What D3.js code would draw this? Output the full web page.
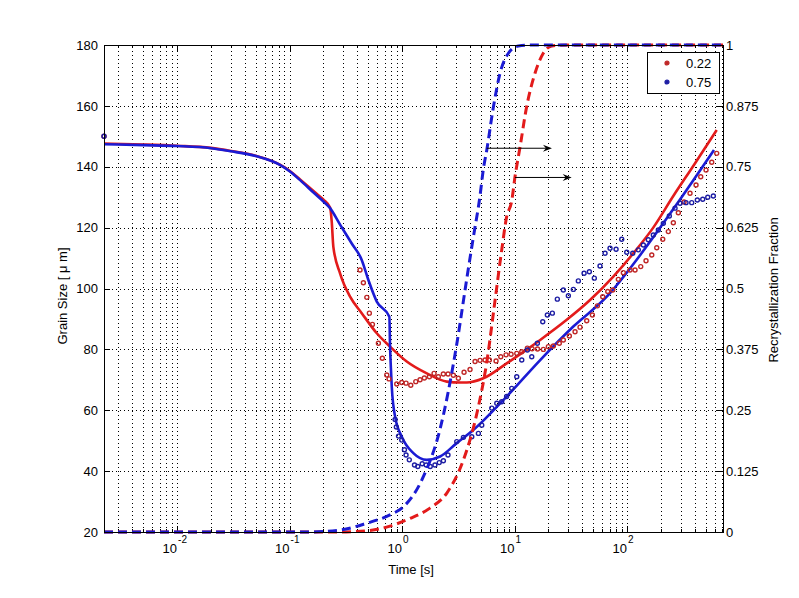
<!DOCTYPE html>
<html>
<head>
<meta charset="utf-8">
<script src="https://cdn.jsdelivr.net/npm/d3@7"></script>
<style>
body { margin: 0; background: #fff; }
svg text { font-family: "Liberation Sans", Arial, Helvetica, sans-serif; font-size: 13px; fill: #000; }
.grid line { stroke: #000; stroke-width: 1; stroke-dasharray: 1,3; shape-rendering: crispEdges; }
.grid path { display: none; }
.ticks path { display: none; }
.ticks line { stroke: #000; shape-rendering: crispEdges; }
</style>
</head>
<body>
<div id="chart"></div>
<script>

// axis ranges and ticks
var timeRange = [0.00224, 713];
var sizeRange = [20, 180];
var fracRange = [0, 1];
var sizeTicks = [20, 40, 60, 80, 100, 120, 140, 160, 180];
var fracTicks = [0, 0.125, 0.25, 0.375, 0.5, 0.625, 0.75, 0.875, 1];
var fracLabels = ["0", "0.125", "0.25", "0.375", "0.5", "0.625", "0.75", "0.875", "1"];
var decadeTicks = [0.01, 0.1, 1, 10, 100];
var decadeExp = ["-2", "-1", "0", "1", "2"];
var seriesNames = ["0.22", "0.75"];

// fitted grain size curves [time s, grain size um]
var redFit = [[0.00224, 147.6], [0.005, 147.3], [0.01, 146.9], [0.02, 146.2], [0.03, 145.2], [0.05, 143.6],
    [0.082, 140.7], [0.1, 138.7], [0.124, 135.8], [0.168, 131.6], [0.2, 129.2], [0.229, 126.6], [0.237, 122],
    [0.245, 113.7], [0.281, 105], [0.345, 97.3], [0.438, 91.9], [0.596, 85.3], [0.782, 80.9], [1.1, 76],
    [1.66, 72.1], [2.5, 69.4], [3.3, 69.1], [3.76, 69.1], [5.28, 70.5], [8.5, 75.4], [12, 79.2], [16.9, 83.1],
    [29.1, 89.7], [46.9, 96.2], [75.5, 103.9], [114, 111.6], [171, 120], [257, 130.3], [400, 141], [627, 152.1]];

var blueFit = [[0.00224, 147.4], [0.005, 147.1], [0.01, 146.8], [0.02, 146.1], [0.03, 145.1], [0.05, 143.5],
    [0.082, 140.6], [0.1, 138.5], [0.124, 135.6], [0.168, 131.1], [0.2, 128.6], [0.229, 126.4], [0.281, 121],
    [0.357, 114.8], [0.438, 109.4], [0.502, 102.8], [0.596, 95.7], [0.771, 90.7], [0.782, 81], [0.8, 72],
    [0.81, 67.7], [0.867, 57.9], [0.994, 51.3], [1.26, 45.9], [1.66, 43.7], [2.18, 44.8], [3.06, 49.2],
    [4.3, 53.5], [8.5, 64.5], [16.9, 76.5], [33.3, 87.5], [66, 97.3], [131, 111], [257, 126], [593, 145.5]];

// recrystallization fraction curves [time s, fraction]
var redFrac = [[0.00224, 0], [0.28, 0], [0.552, 0.004], [0.78, 0.012], [1.18, 0.028], [1.77, 0.049],
    [2.5, 0.08], [3.51, 0.148], [4.63, 0.244], [5.7, 0.353], [6.71, 0.476], [7.69, 0.579], [8.5, 0.647],
    [9.44, 0.68], [10.1, 0.73], [11.2, 0.791], [12.8, 0.873], [15.2, 0.942], [18, 0.983], [21.4, 0.998],
    [30, 1], [713, 1]];

var blueFrac = [[0.00224, 0], [0.14, 0], [0.28, 0.004], [0.485, 0.018], [0.78, 0.035], [1.03, 0.052],
    [1.45, 0.1], [1.55, 0.114], [2.18, 0.212], [3.06, 0.385], [3.76, 0.52], [4.3, 0.605], [4.93, 0.69],
    [5.28, 0.745], [5.66, 0.784], [6.49, 0.873], [7.43, 0.942], [8.81, 0.983], [10.8, 0.998], [14, 1],
    [713, 1]];

// measured grain size [time s, grain size um]
var redPoints = [[0.00224, 150], [0.423, 106.1], [0.453, 101.9], [0.486, 97.1], [0.512, 91.9], [0.545, 88.2],
    [0.616, 82], [0.668, 77.1], [0.731, 71.6], [0.766, 70.3], [0.897, 68.6], [0.994, 69.1], [1.085, 68.9],
    [1.195, 68.2], [1.324, 69.4], [1.445, 70], [1.578, 70.6], [1.749, 71], [1.925, 72.1], [2.102, 71],
    [2.328, 71.9], [2.564, 71.9], [2.858, 71.5], [3.166, 70.5], [3.557, 72.5], [4.02, 73.4], [4.456, 76],
    [4.934, 76.4], [5.468, 76.5], [5.97, 76.5], [6.848, 76.2], [7.54, 77.6], [8.4, 78.2], [9.31, 78.4],
    [10.46, 78.7], [11.59, 79.2], [13, 80.4], [14.3, 80.2], [16, 80.1], [18.03, 80], [19.97, 80.9],
    [22.13, 81.1], [25, 82], [27.15, 83.1], [30.7, 84.4], [34.5, 85.8], [38.2, 87.3], [43.8, 89.4],
    [49.2, 91.3], [54.5, 94.3], [60.8, 97.3], [67.4, 99], [74.6, 99.5], [83.7, 103], [92.7, 105.2],
    [106.3, 106.1], [117.8, 106.1], [132.4, 107.2], [147.5, 109.1], [165.9, 111], [183.7, 113.4],
    [207.7, 116.2], [232.8, 118.7], [258, 121.6], [285.8, 124.9], [321.2, 128.4], [363.1, 131.3],
    [410.6, 134], [451.9, 136.7], [503.8, 138.9], [566.3, 141.5], [627, 144.4]];

var bluePoints = [[0.00224, 150], [0.867, 57], [0.89, 54.5], [0.93, 51.5], [0.994, 50.2], [1.05, 47],
    [1.085, 45.3], [1.16, 43.7], [1.29, 42], [1.38, 41.5], [1.51, 42.4], [1.64, 42], [1.78, 41.5],
    [1.96, 42], [2.14, 42.8], [2.33, 43.4], [2.56, 45.3], [3.064, 49.7], [3.51, 51.1], [4.166, 51.3],
    [4.77, 52.4], [5.11, 55.1], [6.27, 60.7], [6.95, 62.3], [7.69, 62.8], [8.5, 64.5], [9.44, 67.2],
    [10.46, 71], [11.59, 76.5], [13, 79.8], [14.22, 77.6], [15.95, 82], [17.81, 89.1], [19.57, 91.3],
    [21.68, 91.9], [24.01, 96.5], [27.15, 99.5], [30.08, 97.6], [33.32, 99.7], [36.9, 102.5], [41.5, 105],
    [46.24, 105.5], [51.2, 103.4], [57.5, 107.4], [63.75, 111.6], [70.6, 113.2], [79.9, 112.9],
    [89.7, 116.2], [99.4, 111.9], [112.4, 111.6], [126, 112.7], [139.6, 114.3], [154.6, 116],
    [171.3, 117.6], [189.8, 119.2], [210.2, 121.4], [237.7, 123.8], [267.2, 126.4], [295.9, 128],
    [334.5, 128.2], [375.9, 128.2], [421.5, 129.1], [470.9, 129.3], [521.7, 130], [585, 130.4]];

// annotation arrows [start time, end time, fraction]
var arrowSpecs = [[5.66, 21.5, 0.788], [10.1, 32.2, 0.728]];

var red = "#e31b1b", blue = "#1b1bd4", redMark = "#bf2626", blueMark = "#1c1ca3";

var margin = {top: 45, right: 76, bottom: 66, left: 104},
    w = 799, h = 598,
    width = w - margin.left - margin.right,
    height = h - margin.top - margin.bottom;

var svg = d3.select("#chart").append("svg")
    .attr("width", w)
    .attr("height", h);

var g = svg.append("g")
    .attr("transform", "translate(" + margin.left + "," + margin.top + ")");

var x = d3.scaleLog().domain(timeRange).range([0, width]);
var yL = d3.scaleLinear().domain(sizeRange).range([height, 0]);
var yR = d3.scaleLinear().domain(fracRange).range([height, 0]);

// minor tick positions 2..9 x 10^k inside the range
var minorTicks = [];
d3.range(-3, 3).forEach(function (k) {
    d3.range(2, 10).forEach(function (m) {
        var v = m * Math.pow(10, k);
        if (v > timeRange[0] && v < timeRange[1]) minorTicks.push(v);
    });
});

g.append("rect")
    .attr("width", width)
    .attr("height", height)
    .attr("fill", "#fff");

// grid
g.append("g").attr("class", "grid")
    .attr("transform", "translate(0," + height + ")")
    .call(d3.axisBottom(x).tickValues(decadeTicks.concat(minorTicks)).tickSize(-height).tickFormat(""));

g.append("g").attr("class", "grid")
    .call(d3.axisLeft(yL).tickValues(sizeTicks.slice(1, -1)).tickSize(-width).tickFormat(""));

// ticks, pointing inwards
g.append("g").attr("class", "ticks")
    .attr("transform", "translate(0," + height + ")")
    .call(d3.axisBottom(x).tickValues(decadeTicks).tickSize(-6).tickFormat(""));
g.append("g").attr("class", "ticks")
    .attr("transform", "translate(0," + height + ")")
    .call(d3.axisBottom(x).tickValues(minorTicks).tickSize(-3).tickFormat(""));
g.append("g").attr("class", "ticks")
    .call(d3.axisTop(x).tickValues(decadeTicks).tickSize(-6).tickFormat(""));
g.append("g").attr("class", "ticks")
    .call(d3.axisTop(x).tickValues(minorTicks).tickSize(-3).tickFormat(""));
g.append("g").attr("class", "ticks")
    .call(d3.axisLeft(yL).tickValues(sizeTicks).tickSize(-6).tickFormat(""));
g.append("g").attr("class", "ticks")
    .attr("transform", "translate(" + width + ",0)")
    .call(d3.axisRight(yR).tickValues(fracTicks).tickSize(-6).tickFormat(""));

// tick labels
g.selectAll("text.ylab")
    .data(sizeTicks)
    .enter().append("text")
    .attr("class", "ylab")
    .attr("x", -6)
    .attr("y", function (d) { return yL(d); })
    .attr("dy", "0.36em")
    .attr("text-anchor", "end")
    .text(function (d) { return d; });

g.selectAll("text.rlab")
    .data(fracTicks)
    .enter().append("text")
    .attr("class", "rlab")
    .attr("x", width + 3)
    .attr("y", function (d) { return yR(d); })
    .attr("dy", "0.36em")
    .attr("text-anchor", "start")
    .text(function (d, i) { return fracLabels[i]; });

var xlab = g.selectAll("g.xlab")
    .data(decadeTicks)
    .enter().append("g")
    .attr("class", "xlab")
    .attr("transform", function (d) { return "translate(" + x(d) + "," + height + ")"; });
xlab.append("text")
    .attr("x", 0)
    .attr("y", 21)
    .attr("text-anchor", "end")
    .text("10");
xlab.append("text")
    .attr("x", 1)
    .attr("y", 11)
    .style("font-size", "10px")
    .text(function (d, i) { return decadeExp[i]; });

// axis titles
svg.append("text")
    .attr("x", margin.left + x(1) + 9)
    .attr("y", 574)
    .attr("text-anchor", "middle")
    .text("Time [s]");

svg.append("text")
    .attr("transform", "translate(66.5,296) rotate(-90)")
    .attr("text-anchor", "middle")
    .text("Grain Size [ \u03bc m]");

svg.append("text")
    .attr("transform", "translate(778,290) rotate(-90)")
    .attr("text-anchor", "middle")
    .text("Recrystallization Fraction");

// curves
var sizeLine = d3.line()
    .x(function (d) { return x(d[0]); })
    .y(function (d) { return yL(d[1]); })
    .curve(d3.curveMonotoneX);

var fracLine = d3.line()
    .x(function (d) { return x(d[0]); })
    .y(function (d) { return yR(d[1]); })
    .curve(d3.curveMonotoneX);

g.append("path").datum(redFit)
    .attr("d", sizeLine)
    .attr("fill", "none").attr("stroke", red).attr("stroke-width", 2.6);
g.append("path").datum(blueFit)
    .attr("d", sizeLine)
    .attr("fill", "none").attr("stroke", blue).attr("stroke-width", 2.6);

function drawPoints(data, color) {
    g.append("g").selectAll("circle")
        .data(data)
        .enter().append("circle")
        .attr("cx", function (d) { return x(d[0]); })
        .attr("cy", function (d) { return yL(d[1]); })
        .attr("r", 2)
        .attr("fill", "none")
        .attr("stroke", color)
        .attr("stroke-width", 1.4);
}
drawPoints(redPoints, redMark);
drawPoints(bluePoints, blueMark);

g.append("path").datum(redFrac)
    .attr("d", fracLine)
    .attr("fill", "none").attr("stroke", red).attr("stroke-width", 3)
    .attr("stroke-dasharray", "9,5");
g.append("path").datum(blueFrac)
    .attr("d", fracLine)
    .attr("fill", "none").attr("stroke", blue).attr("stroke-width", 3)
    .attr("stroke-dasharray", "9,5");

// arrows
arrowSpecs.forEach(function (a) {
    var x0 = x(a[0]), x1 = x(a[1]), yy = yR(a[2]);
    g.append("line")
        .attr("x1", x0).attr("x2", x1 - 4)
        .attr("y1", yy).attr("y2", yy)
        .attr("stroke", "#000").attr("stroke-width", 1);
    g.append("path")
        .attr("d", "M" + x1 + "," + yy + "L" + (x1 - 9) + "," + (yy - 3.5) + "L" + (x1 - 6) + "," + yy
            + "L" + (x1 - 9) + "," + (yy + 3.5) + "Z")
        .attr("fill", "#000");
});

// frame
g.append("rect")
    .attr("width", width)
    .attr("height", height)
    .attr("fill", "none")
    .attr("stroke", "#000")
    .attr("shape-rendering", "crispEdges");

// legend
var legend = svg.append("g").attr("transform", "translate(647,52)");
legend.append("rect")
    .attr("width", 72).attr("height", 41)
    .attr("fill", "#fff").attr("stroke", "#000")
    .attr("shape-rendering", "crispEdges");
legend.selectAll("g.item")
    .data(seriesNames)
    .enter().append("g")
    .attr("class", "item")
    .attr("transform", function (d, i) { return "translate(0," + (11 + i * 19) + ")"; })
    .each(function (d, i) {
        var item = d3.select(this);
        item.append("circle")
            .attr("cx", 20).attr("cy", 0).attr("r", 2)
            .attr("fill", i == 0 ? redMark : blueMark)
            .attr("stroke", i == 0 ? redMark : blueMark)
            .attr("stroke-width", 1.2);
        item.append("text")
            .attr("x", 39).attr("y", 0).attr("dy", "0.36em")
            .text(d);
    });

</script>
</body>
</html>
